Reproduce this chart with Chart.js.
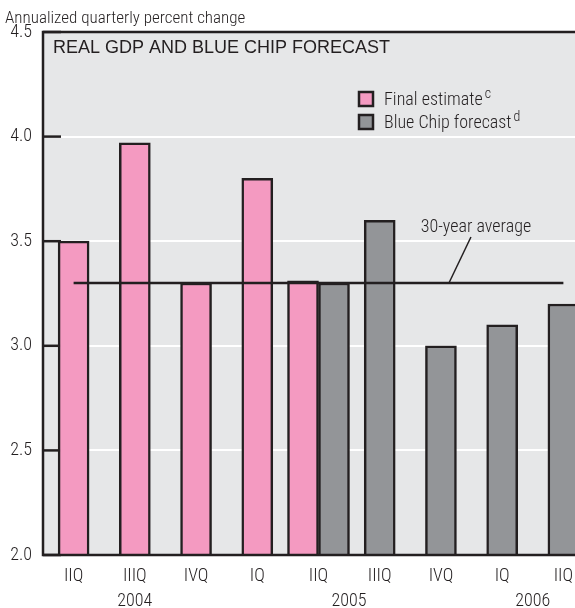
<!DOCTYPE html>
<html>
<head>
<meta charset="utf-8">
<script src="https://cdn.jsdelivr.net/npm/chart.js@4.4.1/dist/chart.umd.min.js"></script>
<style>
    html, body { margin: 0; padding: 0; background: #fff; overflow: hidden; }
    #gdpChart { display: block; }
</style>
</head>
<body>
<canvas id="gdpChart" width="594" height="608"></canvas>
<script>
const quarters = ["IIQ", "IIIQ", "IVQ", "IQ", "IIQ", "IIIQ", "IVQ", "IQ", "IIQ"];
const years = ["2004", "2004", "2004", "2005", "2005", "2005", "2005", "2006", "2006"];
const finalEstimate = [3.5, 3.97, 3.3, 3.8, 3.31, null, null, null, null];
const blueChipForecast = [null, null, null, null, 3.3, 3.6, 3.0, 3.1, 3.2];
const thirtyYearAverage = [3.3, 3.3, 3.3, 3.3, 3.3, 3.3, 3.3, 3.3, 3.3];
const yMin = 2.0;
const yMax = 4.5;
const yStep = 0.5;

const DARK = "#231f20";
const PINK = "#f49ac1";
const GRAY = "#939598";
const PANEL = "#e6e7e8";
const NARROW = "'Roboto Condensed', sans-serif";
const SANS = "'Liberation Sans', Arial, sans-serif";

const legendItems = [
    { text: "Final estimate", sup: "c", color: PINK },
    { text: "Blue Chip forecast", sup: "d", color: GRAY }
];

const decorPlugin = {
    id: "decor",
    beforeDraw(chart) {
        const { ctx, chartArea } = chart;
        ctx.save();
        ctx.fillStyle = "#fff";
        ctx.fillRect(0, 0, chart.width, chart.height);
        ctx.fillStyle = PANEL;
        ctx.fillRect(chartArea.left, chartArea.top, chartArea.right - chartArea.left, chartArea.bottom - chartArea.top);
        ctx.restore();
    },
    beforeDatasetsDraw(chart) {
        // short dark ticks drawn inside the panel
        const { ctx, chartArea, scales } = chart;
        ctx.save();
        ctx.strokeStyle = DARK;
        ctx.lineWidth = 2.5;
        scales.y.ticks.forEach(t => {
            const y = scales.y.getPixelForValue(t.value);
            ctx.beginPath();
            ctx.moveTo(chartArea.left, y);
            ctx.lineTo(chartArea.left + 18, y);
            ctx.stroke();
        });
        ctx.restore();
    },
    afterDraw(chart) {
        const { ctx, chartArea, scales } = chart;
        const x = scales.x;
        const y = scales.y;
        ctx.save();

        // frame
        ctx.strokeStyle = DARK;
        ctx.lineWidth = 2.5;
        ctx.beginPath();
        ctx.moveTo(chart.width, chartArea.top);
        ctx.lineTo(chartArea.left, chartArea.top);
        ctx.lineTo(chartArea.left, chartArea.bottom);
        ctx.lineTo(chart.width, chartArea.bottom);
        ctx.stroke();

        ctx.fillStyle = DARK;
        ctx.textBaseline = "alphabetic";

        // axis title
        ctx.font = "300 17px " + NARROW;
        ctx.textAlign = "left";
        ctx.fillText("Annualized quarterly percent change", 5, 23);

        // panel title
        ctx.font = "18px " + SANS;
        ctx.fillText("REAL GDP AND BLUE CHIP FORECAST", chartArea.left + 10, chartArea.top + 21);

        // legend
        legendItems.forEach((item, i) => {
            const bx = chartArea.left + 316;
            const by = chartArea.top + 60 + i * 23;
            ctx.fillStyle = item.color;
            ctx.fillRect(bx, by, 14, 14);
            ctx.strokeStyle = DARK;
            ctx.lineWidth = 2.5;
            ctx.strokeRect(bx, by, 14, 14);
            ctx.fillStyle = DARK;
            ctx.font = "300 18px " + NARROW;
            ctx.fillText(item.text, bx + 25, by + 13);
            const w = ctx.measureText(item.text).width;
            ctx.font = "300 14px " + NARROW;
            ctx.fillText(item.sup, bx + 27 + w, by + 6);
        });

        // year labels centred under their quarters
        ctx.font = "300 18px " + NARROW;
        ctx.textAlign = "center";
        const groups = {};
        years.forEach((yr, i) => {
            (groups[yr] = groups[yr] || []).push(x.getPixelForValue(i));
        });
        Object.keys(groups).forEach(yr => {
            const px = groups[yr];
            const cx = (Math.min(...px) + Math.max(...px)) / 2;
            ctx.fillText(yr, cx, 606);
        });

        // 30-year average callout
        const ax = x.getPixelForValue(6) + 8;
        const ay = y.getPixelForValue(thirtyYearAverage[6]);
        ctx.strokeStyle = DARK;
        ctx.lineWidth = 1.5;
        ctx.beginPath();
        ctx.moveTo(ax, ay);
        ctx.lineTo(ax + 22, y.getPixelForValue(3.52));
        ctx.stroke();
        ctx.fillText("30-year average", ax + 27, y.getPixelForValue(3.543));

        ctx.restore();
    }
};

const ctx = document.getElementById("gdpChart").getContext("2d");

new Chart(ctx, {
    data: {
        labels: quarters,
        datasets: [
            {
                type: "line",
                label: "30-year average",
                data: thirtyYearAverage,
                borderColor: DARK,
                borderWidth: 2.5,
                pointRadius: 0,
                fill: false,
                order: 0
            },
            {
                type: "bar",
                label: "Final estimate",
                data: finalEstimate,
                backgroundColor: PINK,
                borderColor: DARK,
                borderWidth: 2.5,
                borderSkipped: false,
                barThickness: 31,
                skipNull: true,
                order: 1
            },
            {
                type: "bar",
                label: "Blue Chip forecast",
                data: blueChipForecast,
                backgroundColor: GRAY,
                borderColor: DARK,
                borderWidth: 2.5,
                borderSkipped: false,
                barThickness: 31,
                skipNull: true,
                order: 1
            }
        ]
    },
    options: {
        responsive: false,
        animation: false,
        layout: { padding: { top: 32, left: 0, right: 0, bottom: 0 } },
        plugins: {
            legend: { display: false },
            tooltip: { enabled: false },
            title: { display: false }
        },
        scales: {
            x: {
                offset: true,
                grid: { display: false, drawTicks: false },
                border: { display: false },
                ticks: {
                    color: DARK,
                    font: { family: NARROW, size: 18, weight: 300 },
                    padding: 11,
                    maxRotation: 0,
                    autoSkip: false
                },
                afterFit(scale) { scale.height = 53; }
            },
            y: {
                min: yMin,
                max: yMax,
                grid: { color: "#fff", lineWidth: 2, drawTicks: false },
                border: { display: false },
                ticks: {
                    stepSize: yStep,
                    color: DARK,
                    font: { family: NARROW, size: 18, weight: 300 },
                    padding: 11,
                    callback: v => v.toFixed(1)
                },
                afterFit(scale) { scale.width = 43; }
            }
        }
    },
    plugins: [decorPlugin]
});
</script>
</body>
</html>
